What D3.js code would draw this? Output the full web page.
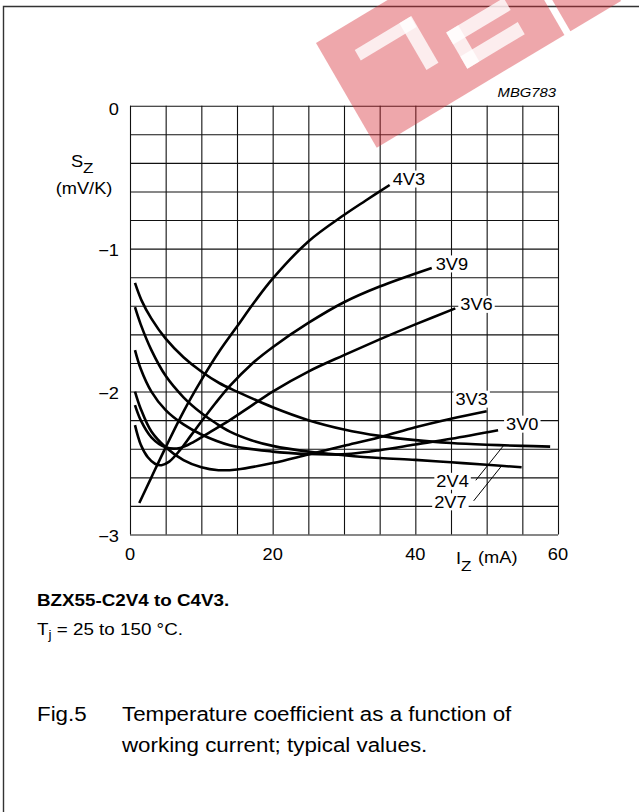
<!DOCTYPE html>
<html><head><meta charset="utf-8">
<script src="https://cdn.jsdelivr.net/npm/d3@7"></script>
<style>html,body{margin:0;padding:0;background:#fff;}svg{display:block;}</style>
</head><body>
<svg id="c" width="639" height="812"></svg>
<script>
// ---------- data ----------
const xTicks = [0, 20, 40, 60];
const yTicks = [0, -1, -2, -3];
const yTickLabels = ["0", "\u22121", "\u22122", "\u22123"];
const seriesNames = ["2V4", "2V7", "3V0", "3V3", "3V6", "3V9", "4V3"];
const c2V4 = [[0.7,-1.24],[1.6,-1.36],[3,-1.49],[5,-1.63],[7.5,-1.76],[10,-1.86],[12.5,-1.94],[15,-2.0],[20,-2.11],[25,-2.2],[30,-2.265],[35,-2.31],[40,-2.34],[45,-2.36],[50,-2.372],[55,-2.38],[58.9,-2.385]];
const c2V7 = [[0.7,-1.41],[1.5,-1.53],[3,-1.71],[5,-1.89],[7.5,-2.04],[10,-2.15],[12,-2.22],[14,-2.28],[17,-2.34],[20,-2.38],[25,-2.42],[30,-2.445],[35,-2.465],[40,-2.478],[45,-2.495],[50,-2.512],[54.9,-2.53]];
const c3V0 = [[0.7,-1.71],[1.5,-1.84],[3,-2.0],[5,-2.13],[7.5,-2.23],[10,-2.3],[14,-2.375],[20,-2.42],[25,-2.437],[28,-2.44],[31,-2.435],[35,-2.41],[40,-2.37],[45,-2.33],[51.6,-2.27]];
const c3V3 = [[0.7,-2.0],[1.5,-2.12],[3,-2.28],[5,-2.39],[7.5,-2.48],[10,-2.53],[12.4,-2.55],[15,-2.545],[20,-2.5],[25,-2.44],[30,-2.38],[35,-2.32],[40,-2.25],[45,-2.19],[50,-2.137]];
const c3V6 = [[0.7,-2.095],[1.5,-2.2],[3,-2.32],[5,-2.39],[7,-2.395],[9,-2.35],[11,-2.29],[14,-2.2],[17,-2.1],[20,-2.0],[25,-1.86],[30,-1.745],[35,-1.635],[40,-1.53],[45.6,-1.418]];
const c3V9 = [[0.7,-2.235],[1.5,-2.37],[2.5,-2.46],[3.5,-2.505],[4.4,-2.515],[5.5,-2.49],[7,-2.41],[8.5,-2.31],[10,-2.21],[12,-2.08],[14,-1.96],[17,-1.81],[20,-1.69],[25,-1.52],[30,-1.375],[35,-1.265],[42.3,-1.135]];
const c4V3 = [[1.3,-2.78],[3,-2.6],[5,-2.39],[7.5,-2.14],[10,-1.92],[12.5,-1.72],[15,-1.545],[17.5,-1.37],[20,-1.21],[25,-0.95],[30,-0.765],[33,-0.665],[36.4,-0.555]];
const curves = [c2V4, c2V7, c3V0, c3V3, c3V6, c3V9, c4V3];

// ---------- layout ----------
const FONT = "'Liberation Sans', Arial, Helvetica, sans-serif";
const SX = 1.14; // horizontal stretch of the original scan
const svg = d3.select("#c");
const x = d3.scaleLinear().domain([0, 60]).range([130, 558]);
const y = d3.scaleLinear().domain([0, -3]).range([105.7, 534.5]);

function txt(g, px, py, s, size, anchor, opt) {
  opt = opt || {};
  const t = g.append("text")
    .attr("transform", `translate(${px},${py}) scale(${SX},1)`)
    .attr("font-family", FONT).attr("font-size", size)
    .attr("text-anchor", anchor || "start").attr("fill", "#000")
    .text(s);
  if (opt.weight) t.attr("font-weight", opt.weight);
  if (opt.style) t.attr("font-style", opt.style);
  return t;
}

// frame
svg.append("path").attr("d", "M3.5,812 L3.5,6.5 L639,6.5")
  .attr("fill", "none").attr("stroke", "#333").attr("stroke-width", 1.4);

// grid
const grid = svg.append("g");
const xGrid = d3.range(0, 60.01, 5), yGrid = d3.range(0, -3.01, -0.2);
grid.append("g").attr("transform", `translate(0,${y(-3)})`)
  .call(d3.axisBottom(x).tickValues(xGrid).tickSize(-(y(-3) - y(0))).tickFormat(""))
  .call(g => g.select(".domain").remove())
  .selectAll("line").attr("stroke", "#111").attr("stroke-width", 1.1);
grid.append("g").attr("transform", `translate(${x(0)},0)`)
  .call(d3.axisLeft(y).tickValues(yGrid).tickSize(-(x(60) - x(0))).tickFormat(""))
  .call(g => g.select(".domain").remove())
  .selectAll("line").attr("stroke", "#111").attr("stroke-width", 1.1);

// tick labels
const tl = svg.append("g");
xTicks.forEach(v => txt(tl, x(v), 560, String(v), 16, "middle"));
yTicks.forEach((v, i) => txt(tl, 119, y(v) + 7.5 + (v === 0 ? 1.5 : 0), yTickLabels[i], 16, "end"));

// axis titles
txt(tl, 71, 167, "S", 16, "start");
txt(tl, 83, 173, "Z", 15, "start");
txt(tl, 84, 194, "(mV/K)", 16, "middle");
txt(tl, 456, 564, "I", 16, "start");
txt(tl, 461, 571, "Z", 15, "start");
txt(tl, 478, 563, "(mA)", 16, "start");
txt(tl, 556, 97, "MBG783", 13, "end", {style: "italic"});

// curve labels
const last = c => c[c.length - 1];
const labels = [
  {name: "4V3", c: c4V3, dx: 3, dy: -6, anchor: "start"},
  {name: "3V9", c: c3V9, dx: 4, dy: -4, anchor: "start"},
  {name: "3V6", c: c3V6, dx: 5, dy: -4, anchor: "start"},
  {name: "3V3", c: c3V3, dx: -15, dy: -12, anchor: "middle"},
  {name: "3V0", c: c3V0, dx: 8, dy: -6, anchor: "start"},
];
const lg = svg.append("g");
function labelBox(cx0, cy, s, anchor) {
  const w = s.length * 16 * 0.593 * SX, h = 15;
  let x0 = anchor === "start" ? cx0 : anchor === "middle" ? cx0 - w / 2 : cx0 - w;
  lg.append("rect").attr("x", x0 - 2).attr("y", cy - h / 2 - 1).attr("width", w + 4).attr("height", h + 2).attr("fill", "#fff");
  txt(lg, cx0, cy + 5.8, s, 16, anchor);
}
labels.forEach(l => {
  const p = last(l.c);
  labelBox(x(p[0]) + l.dx, y(p[1]) + l.dy, l.name, l.anchor);
});
// leader labels for 2V4 / 2V7
const leaders = [
  {name: "2V4", c: c2V4, at: 52.4},
  {name: "2V7", c: c2V7, at: 52.1},
];
leaders.forEach(l => {
  const i = l.c.findIndex(p => p[0] >= l.at);
  const a = l.c[i - 1], b = l.c[i];
  const s = a[1] + (b[1] - a[1]) * (l.at - a[0]) / (b[0] - a[0]);
  const x1 = x(l.at), y1 = y(s);
  const x2 = x1 - 28, y2 = y1 + 35;
  labelBox(x2 - 7, y2 + 1, l.name, "end");
  lg.append("line").attr("x1", x1).attr("y1", y1).attr("x2", x2).attr("y2", y2)
    .attr("stroke", "#000").attr("stroke-width", 1);
});

// curves
const line = d3.line().x(d => x(d[0])).y(d => y(d[1])).curve(d3.curveCatmullRom.alpha(0.5));
svg.append("g").selectAll("path").data(curves).join("path")
  .attr("d", line).attr("fill", "none").attr("stroke", "#000")
  .attr("stroke-width", 2.6).attr("stroke-linecap", "butt");

// caption
const cap = svg.append("g");
txt(cap, 37, 606, "BZX55-C2V4 to C4V3.", 16.5, "start", {weight: "bold"});
const tj = cap.append("text").attr("transform", `translate(37,635) scale(${SX},1)`)
  .attr("font-family", FONT).attr("font-size", 16.5);
tj.append("tspan").text("T");
tj.append("tspan").attr("font-size", 12).attr("dy", 4).text("j");
tj.append("tspan").attr("dy", -4).text(" = 25 to 150 \u00B0C.");
txt(cap, 37, 721, "Fig.5", 19.6, "start");
txt(cap, 122, 721, "Temperature coefficient as a function of", 19.6, "start");
txt(cap, 122, 752, "working current; typical values.", 19.6, "start");

// watermark (semi-transparent logo at the top right)
const wm = svg.append("g");
const O = [316, 43], U = [0.857, -0.515], V = [0.502, 0.865];
const uv = (u, v) => [O[0] + u * U[0] + v * V[0], O[1] + u * U[1] + v * V[1]];
const poly = (pts) => pts.map(p => p.join(",")).join(" ");
const rectUV = (u0, u1, v0, v1) => poly([uv(u0, v0), uv(u1, v0), uv(u1, v1), uv(u0, v1)]);
[[0, 219, 0, 121], [226, 285, 0, 121], [292, 420, 0, 121]].forEach(r =>
  wm.append("polygon").attr("points", rectUV(...r)).attr("fill", "rgb(215,45,55)").attr("opacity", 0.42));
[[30, 95, 26, 38], [82, 96, 26, 80], [118, 185, 58, 72], [118, 132, 58, 100], [118, 185, 86, 100]].forEach(r =>
  wm.append("polygon").attr("points", rectUV(...r)).attr("fill", "#fff").attr("opacity", 0.8));
</script>
</body></html>
